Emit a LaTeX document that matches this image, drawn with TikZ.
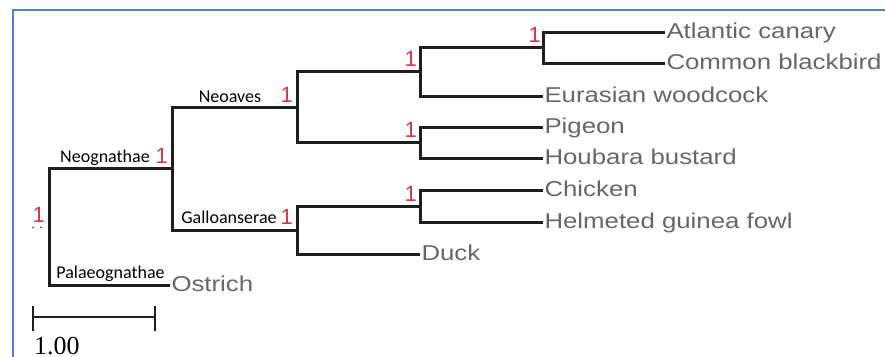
\documentclass[tikz,border=0pt]{standalone}
\usepackage{fontspec}
\newfontfamily\leaffont[FakeStretch=1.2]{Liberation Sans}
\newfontfamily\cladefont{Carlito}
\newfontfamily\supfont{Liberation Sans}
\newfontfamily\barfont{Liberation Serif}
\definecolor{branch}{RGB}{30,30,30}
\definecolor{leafgray}{RGB}{102,102,102}
\definecolor{suppred}{RGB}{214,54,74}
\definecolor{frameblue}{RGB}{86,124,214}
\tikzset{
  branchline/.style={draw=branch, line width=3pt},
  leaf/.style={anchor=west, inner xsep=1.5pt, inner ysep=0pt, outer sep=0pt,
    text=leafgray, font=\leaffont\fontsize{21.5}{24}\selectfont,
    text height=15.5pt, text depth=3.5pt},
  clade/.style={anchor=base, inner sep=0pt, font=\cladefont\fontsize{18}{20}\selectfont, text=black},
  supp/.style={anchor=base east, inner sep=0pt, text=suppred, font=\supfont\fontsize{22}{24}\selectfont},
  scalelabel/.style={anchor=base west, inner sep=0pt, font=\barfont\fontsize{26}{28}\selectfont, text=black},
  frame/.style={draw=frameblue, line width=1.5pt},
}
\begin{document}
\begin{tikzpicture}[x=1pt, y=-1pt]
\useasboundingbox (0,0) rectangle (885,356);
% frame
\draw[frame] (13,360) -- (13,10) -- (890,10);
% internal nodes
\coordinate (root) at (49,226.5);
\coordinate (neognathae) at (172,168.5);
\coordinate (neoaves) at (297,107);
\coordinate (na) at (420,71.5);
\coordinate (nb) at (543,47.5);
\coordinate (nc) at (420,142.5);
\coordinate (galloanserae) at (297,230.5);
\coordinate (nd) at (420,206);
% leaves
\node[leaf] (canary) at (665,32) {Atlantic canary};
\node[leaf] (blackbird) at (665,63) {Common blackbird};
\node[leaf] (woodcock) at (543,96) {Eurasian woodcock};
\node[leaf] (pigeon) at (543,127) {Pigeon};
\node[leaf] (houbara) at (543,158) {Houbara bustard};
\node[leaf] (chicken) at (543,190) {Chicken};
\node[leaf] (guinea) at (543,222) {Helmeted guinea fowl};
\node[leaf] (duck) at (420,254) {Duck};
\node[leaf] (ostrich) at (170,285) {Ostrich};
% branches
\draw[branchline] (root) |- (neognathae);
\draw[branchline] (root) |- (ostrich.west);
\draw[branchline] (neognathae) |- (neoaves);
\draw[branchline] (neognathae) |- (galloanserae);
\draw[branchline] (neoaves) |- (na);
\draw[branchline] (neoaves) |- (nc);
\draw[branchline] (na) |- (nb);
\draw[branchline] (na) |- (woodcock.west);
\draw[branchline] (nb) |- (canary.west);
\draw[branchline] (nb) |- (blackbird.west);
\draw[branchline] (nc) |- (pigeon.west);
\draw[branchline] (nc) |- (houbara.west);
\draw[branchline] (galloanserae) |- (nd);
\draw[branchline] (galloanserae) |- (duck.west);
\draw[branchline] (nd) |- (chicken.west);
\draw[branchline] (nd) |- (guinea.west);
% support values
\node[supp] (s0) at (45,222) {1};
\node[supp] (s1) at (168,163) {1};
\node[supp] (s2) at (293,102) {1};
\node[supp] (s3) at (417,66) {1};
\node[supp] (s4) at (541,42) {1};
\node[supp] (s5) at (417,137) {1};
\node[supp] (s6) at (293,224) {1};
\node[supp] (s7) at (417,201) {1};
% root dots
\fill[leafgray] (33,227.5) circle (1.2);
\fill[leafgray] (41,227.5) circle (1.2);
% clade labels
\node[clade] (lneoaves) at (230,102) {Neoaves};
\node[clade] (lneognathae) at (105,162) {Neognathae};
\node[clade] (lgallo) at (229,223) {Galloanserae};
\node[clade] (lpalaeo) at (110.5,278) {Palaeognathae};
% scale bar
\coordinate (sbl) at (33,317);
\coordinate (sbr) at (155,317);
\draw[branchline, line width=2.4pt] (sbl) -- (sbr);
\draw[branchline, line width=2.4pt] ([yshift=-14]sbl) -- ([yshift=11]sbl);
\draw[branchline, line width=2.4pt] ([yshift=-14]sbr) -- ([yshift=11]sbr);
\node[scalelabel] (sbtext) at (34,354) {1.00};
\end{tikzpicture}
\end{document}
